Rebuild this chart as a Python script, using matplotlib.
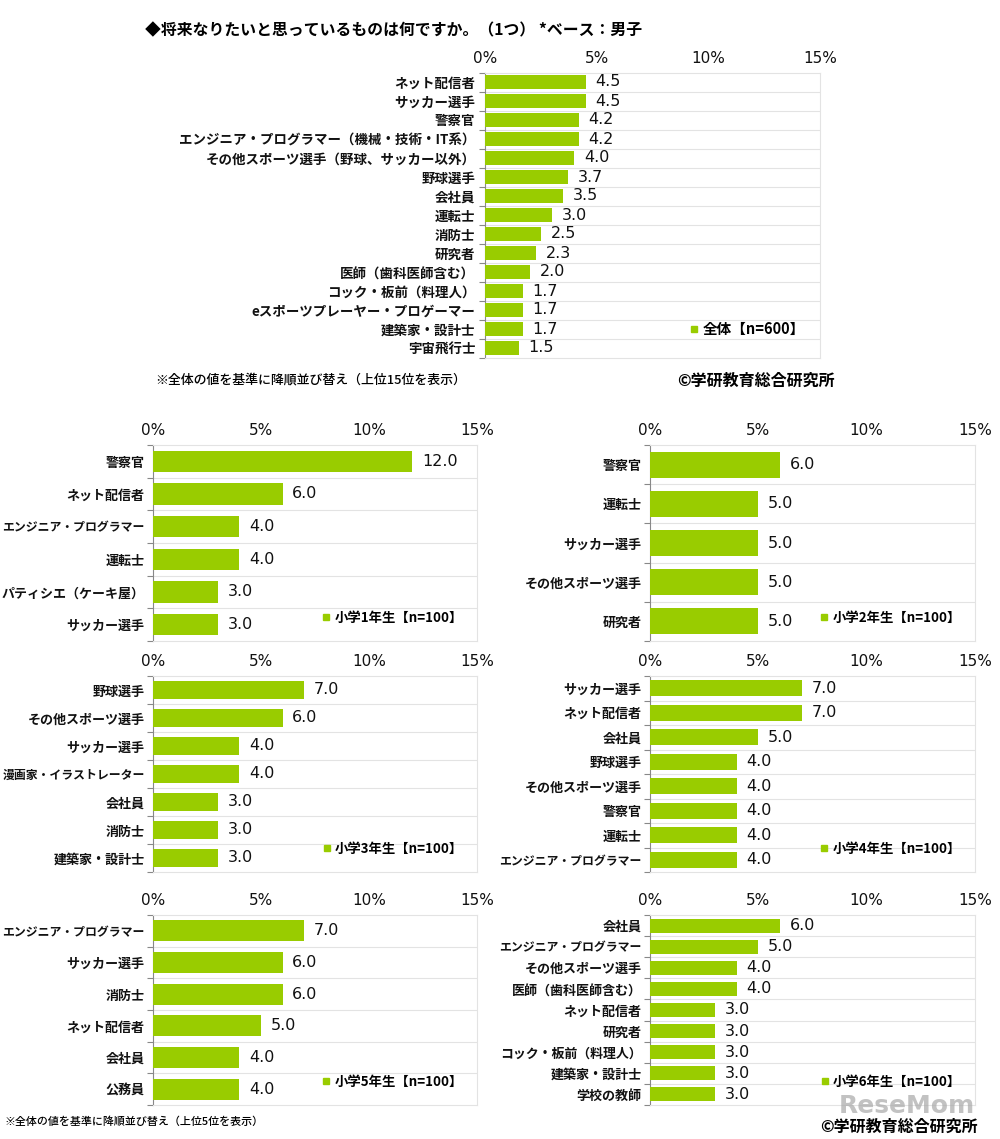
import matplotlib
matplotlib.use("Agg")
import matplotlib.pyplot as plt
from matplotlib.lines import Line2D

plt.rcParams['font.family'] = ['Noto Sans CJK JP', 'DejaVu Sans']

# ---------------- data ----------------
title = "◆将来なりたいと思っているものは何ですか。（1つ） *ベース：男子"

all_labels = ["ネット配信者", "サッカー選手", "警察官", "エンジニア・プログラマー（機械・技術・IT系）",
              "その他スポーツ選手（野球、サッカー以外）", "野球選手", "会社員", "運転士", "消防士", "研究者",
              "医師（歯科医師含む）", "コック・板前（料理人）", "eスポーツプレーヤー・プロゲーマー",
              "建築家・設計士", "宇宙飛行士"]
all_values = [4.5, 4.5, 4.2, 4.2, 4.0, 3.7, 3.5, 3.0, 2.5, 2.3, 2.0, 1.7, 1.7, 1.7, 1.5]
all_legend = "全体【n=600】"

g1_labels = ["警察官", "ネット配信者", "エンジニア・プログラマー", "運転士", "パティシエ（ケーキ屋）", "サッカー選手"]
g1_values = [12.0, 6.0, 4.0, 4.0, 3.0, 3.0]
g2_labels = ["警察官", "運転士", "サッカー選手", "その他スポーツ選手", "研究者"]
g2_values = [6.0, 5.0, 5.0, 5.0, 5.0]
g3_labels = ["野球選手", "その他スポーツ選手", "サッカー選手", "漫画家・イラストレーター", "会社員", "消防士", "建築家・設計士"]
g3_values = [7.0, 6.0, 4.0, 4.0, 3.0, 3.0, 3.0]
g4_labels = ["サッカー選手", "ネット配信者", "会社員", "野球選手", "その他スポーツ選手", "警察官", "運転士", "エンジニア・プログラマー"]
g4_values = [7.0, 7.0, 5.0, 4.0, 4.0, 4.0, 4.0, 4.0]
g5_labels = ["エンジニア・プログラマー", "サッカー選手", "消防士", "ネット配信者", "会社員", "公務員"]
g5_values = [7.0, 6.0, 6.0, 5.0, 4.0, 4.0]
g6_labels = ["会社員", "エンジニア・プログラマー", "その他スポーツ選手", "医師（歯科医師含む）", "ネット配信者",
             "研究者", "コック・板前（料理人）", "建築家・設計士", "学校の教師"]
g6_values = [6.0, 5.0, 4.0, 4.0, 3.0, 3.0, 3.0, 3.0, 3.0]
grade_legends = ["小学1年生【n=100】", "小学2年生【n=100】", "小学3年生【n=100】",
                 "小学4年生【n=100】", "小学5年生【n=100】", "小学6年生【n=100】"]

x_ticks = [0, 5, 10, 15]
x_ticklabels = ["0%", "5%", "10%", "15%"]

note_top = "※全体の値を基準に降順並び替え（上位15位を表示）"
note_bottom = "※全体の値を基準に降順並び替え（上位5位を表示）"
copyright_text = "©学研教育総合研究所"

# ---------------- style ----------------
W, H = 1000, 1139
BAR = "#99CC00"
GRID = "#E3E3E3"
NUM_FONT = ['DejaVu Sans']
fig = plt.figure(figsize=(W / 100, H / 100), dpi=100)
renderer = fig.canvas.get_renderer()


def px_axes(x0, x1, y0, y1):
    return fig.add_axes([x0 / W, 1 - y1 / H, (x1 - x0) / W, (y1 - y0) / H])


def draw(ax, labels, values, legend, bar_h, lab_fs, leg_fs, val_fs, tick_fs, pad, avail):
    n = len(labels)
    ys = list(range(n))
    ax.barh(ys, values, height=bar_h, color=BAR, zorder=3)
    ax.set_xlim(0, 15)
    ax.set_ylim(n - 0.5, -0.5)
    ax.set_yticks(ys)
    tls = ax.set_yticklabels(labels, fontsize=lab_fs, fontweight='bold', color='#111111')
    # shrink labels that would not fit to the left of the axes
    for t in tls:
        w = t.get_window_extent(renderer=renderer).width
        if w > avail:
            t.set_fontsize(lab_fs * avail / w)
    ax.tick_params(axis='y', length=0, pad=pad)
    ax.set_yticks([i - 0.5 for i in range(n + 1)], minor=True)
    ax.tick_params(axis='y', which='minor', length=4, color='#888888', width=0.8)
    for i in range(1, n):
        ax.axhline(i - 0.5, color=GRID, lw=0.8, zorder=1)
    ax.xaxis.tick_top()
    ax.set_xticks(x_ticks)
    ax.set_xticklabels(x_ticklabels, fontsize=tick_fs, color='#111111', family=NUM_FONT)
    ax.tick_params(axis='x', length=0, pad=5)
    for s in ['top', 'right', 'bottom']:
        ax.spines[s].set_color(GRID)
        ax.spines[s].set_linewidth(0.8)
    ax.spines['left'].set_color('#888888')
    ax.spines['left'].set_linewidth(0.8)
    for y, v in zip(ys, values):
        ax.annotate(f"{v:.1f}", xy=(v, y), xytext=(7, 0), textcoords='offset points',
                    va='center', ha='left', fontsize=val_fs, color='#111111', family=NUM_FONT)
    h = Line2D([], [], marker='s', color=BAR, linestyle='None', markersize=4.5)
    ax.legend([h], [legend], loc='lower right', bbox_to_anchor=(0.985, 0.035),
              frameon=False, handlelength=0.6, handletextpad=0.3, borderpad=0.2,
              prop={'size': leg_fs, 'weight': 'bold'})
    return ax


# top chart
ax0 = px_axes(485, 820, 72.5, 357.5)
draw(ax0, all_labels, all_values, all_legend, 0.7, 9.7, 10.5, 11.5, 11, 7, 300)

# panels
rows = [(445, 641), (676, 872), (915, 1105)]
panels = [(g1_labels, g1_values), (g2_labels, g2_values), (g3_labels, g3_values),
          (g4_labels, g4_values), (g5_labels, g5_values), (g6_labels, g6_values)]
for idx, (labs, vals) in enumerate(panels):
    r = idx // 2
    c = idx % 2
    x0, x1 = (153, 477) if c == 0 else (650, 975)
    ax = px_axes(x0, x1, rows[r][0], rows[r][1])
    draw(ax, labs, vals, grade_legends[idx], 0.66, 9.4, 9.6, 11.5, 11, 6, 142)

# texts
fig.text(145 / W, 1 - 30 / H, title, fontsize=11.4, fontweight='bold', va='center', ha='left')
fig.text(155 / W, 1 - 380 / H, note_top, fontsize=9.3, fontweight='medium', va='center', ha='left')
fig.text(835 / W, 1 - 381 / H, copyright_text, fontsize=11.5, fontweight='bold', va='center', ha='right')
fig.text(5 / W, 1 - 1122 / H, note_bottom, fontsize=7.9, fontweight='medium', va='center', ha='left')
fig.text(975 / W, 1 - 1106 / H, "ReseMom", fontsize=18, fontweight='bold', color='#a8a8a8',
         alpha=0.7, va='center', ha='right', family=['DejaVu Sans'])
fig.text(978 / W, 1 - 1127 / H, copyright_text, fontsize=11.5, fontweight='bold', va='center', ha='right')

fig.savefig("out.png", dpi=100, facecolor='white')
